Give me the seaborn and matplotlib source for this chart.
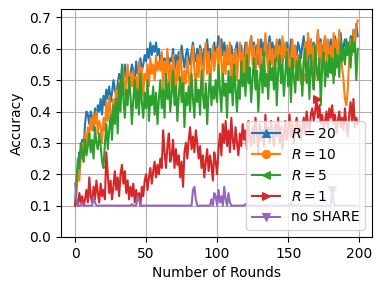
import numpy as np
import pandas as pd
import seaborn as sns
import matplotlib
matplotlib.use("Agg")
import matplotlib.pyplot as plt

rounds = list(range(200))

# accuracy per round
r20 = [0.10, 0.17, 0.22, 0.27, 0.25, 0.31, 0.28, 0.36, 0.40, 0.39, 0.36, 0.40, 0.38, 0.34, 0.41, 0.37, 0.42, 0.40, 0.44, 0.39,
       0.45, 0.42, 0.47, 0.44, 0.48, 0.43, 0.46, 0.50, 0.47, 0.45, 0.49, 0.52, 0.48, 0.54, 0.50, 0.55, 0.51, 0.53, 0.49, 0.52,
       0.55, 0.53, 0.50, 0.56, 0.52, 0.54, 0.57, 0.53, 0.55, 0.58, 0.56, 0.60, 0.57, 0.62, 0.58, 0.61, 0.59, 0.62, 0.58, 0.60,
       0.56, 0.58, 0.55, 0.57, 0.54, 0.58, 0.55, 0.57, 0.56, 0.60, 0.53, 0.58, 0.55, 0.59, 0.56, 0.61, 0.57, 0.54, 0.58, 0.60,
       0.57, 0.55, 0.59, 0.62, 0.58, 0.56, 0.60, 0.57, 0.61, 0.59, 0.55, 0.60, 0.58, 0.63, 0.57, 0.60, 0.56, 0.59, 0.62, 0.58,
       0.60, 0.64, 0.61, 0.63, 0.58, 0.62, 0.59, 0.55, 0.60, 0.57, 0.61, 0.58, 0.56, 0.60, 0.62, 0.57, 0.59, 0.61, 0.55, 0.58,
       0.62, 0.60, 0.57, 0.61, 0.64, 0.59, 0.62, 0.58, 0.61, 0.55, 0.60, 0.63, 0.58, 0.62, 0.60, 0.57, 0.61, 0.64, 0.59, 0.62,
       0.58, 0.61, 0.56, 0.60, 0.63, 0.59, 0.55, 0.61, 0.58, 0.62, 0.60, 0.57, 0.63, 0.59, 0.56, 0.61, 0.58, 0.62, 0.60, 0.57,
       0.61, 0.64, 0.58, 0.62, 0.55, 0.60, 0.63, 0.59, 0.62, 0.57, 0.61, 0.65, 0.60, 0.63, 0.58, 0.61, 0.64, 0.59, 0.62, 0.60,
       0.63, 0.58, 0.61, 0.64, 0.60, 0.57, 0.62, 0.65, 0.59, 0.61, 0.63, 0.58, 0.62, 0.60, 0.64, 0.61, 0.66, 0.63, 0.68, 0.64]

r10 = [0.10, 0.14, 0.20, 0.18, 0.26, 0.30, 0.24, 0.33, 0.29, 0.35, 0.32, 0.38, 0.34, 0.39, 0.36, 0.40, 0.33, 0.37, 0.35, 0.30,
       0.38, 0.34, 0.43, 0.37, 0.45, 0.40, 0.36, 0.44, 0.41, 0.47, 0.39, 0.50, 0.43, 0.48, 0.53, 0.45, 0.50, 0.55, 0.47, 0.52,
       0.48, 0.53, 0.45, 0.51, 0.47, 0.56, 0.49, 0.54, 0.45, 0.52, 0.50, 0.55, 0.48, 0.57, 0.52, 0.55, 0.50, 0.58, 0.53, 0.56,
       0.53, 0.59, 0.47, 0.56, 0.52, 0.60, 0.49, 0.55, 0.46, 0.58, 0.53, 0.44, 0.56, 0.50, 0.59, 0.54, 0.43, 0.53, 0.49, 0.57,
       0.52, 0.45, 0.56, 0.61, 0.53, 0.46, 0.58, 0.51, 0.60, 0.55, 0.47, 0.57, 0.62, 0.52, 0.59, 0.48, 0.55, 0.61, 0.53, 0.58,
       0.60, 0.54, 0.63, 0.56, 0.49, 0.59, 0.52, 0.61, 0.55, 0.62, 0.46, 0.58, 0.53, 0.60, 0.50, 0.57, 0.62, 0.54, 0.59, 0.49,
       0.58, 0.62, 0.53, 0.60, 0.64, 0.55, 0.61, 0.50, 0.59, 0.63, 0.54, 0.60, 0.48, 0.57, 0.65, 0.58, 0.52, 0.62, 0.55, 0.60,
       0.51, 0.59, 0.63, 0.55, 0.61, 0.52, 0.64, 0.57, 0.62, 0.53, 0.60, 0.49, 0.57, 0.63, 0.54, 0.61, 0.50, 0.58, 0.52, 0.49,
       0.51, 0.57, 0.62, 0.54, 0.65, 0.58, 0.63, 0.53, 0.61, 0.50, 0.59, 0.66, 0.55, 0.62, 0.52, 0.60, 0.64, 0.56, 0.63, 0.54,
       0.61, 0.55, 0.65, 0.58, 0.63, 0.56, 0.66, 0.60, 0.54, 0.50, 0.44, 0.42, 0.47, 0.57, 0.63, 0.58, 0.66, 0.60, 0.67, 0.69]

r5 = [0.10, 0.18, 0.25, 0.22, 0.30, 0.27, 0.24, 0.31, 0.26, 0.29, 0.33, 0.27, 0.31, 0.25, 0.35, 0.30, 0.28, 0.33, 0.29, 0.24,
      0.22, 0.30, 0.36, 0.28, 0.34, 0.39, 0.31, 0.42, 0.36, 0.44, 0.33, 0.49, 0.40, 0.55, 0.44, 0.38, 0.47, 0.42, 0.51, 0.45,
      0.36, 0.44, 0.50, 0.41, 0.47, 0.39, 0.52, 0.43, 0.38, 0.46, 0.41, 0.50, 0.37, 0.45, 0.42, 0.48, 0.39, 0.46, 0.36, 0.44,
      0.50, 0.41, 0.47, 0.38, 0.52, 0.44, 0.49, 0.40, 0.46, 0.53, 0.42, 0.48, 0.37, 0.45, 0.51, 0.43, 0.49, 0.35, 0.46, 0.42,
      0.48, 0.40, 0.52, 0.44, 0.38, 0.50, 0.43, 0.47, 0.39, 0.53, 0.45, 0.41, 0.49, 0.36, 0.46, 0.52, 0.42, 0.48, 0.44, 0.50,
      0.43, 0.55, 0.47, 0.40, 0.52, 0.45, 0.49, 0.38, 0.53, 0.46, 0.51, 0.42, 0.55, 0.47, 0.40, 0.50, 0.44, 0.56, 0.48, 0.52,
      0.45, 0.58, 0.49, 0.54, 0.43, 0.51, 0.57, 0.47, 0.53, 0.40, 0.50, 0.55, 0.46, 0.59, 0.48, 0.52, 0.44, 0.56, 0.50, 0.54,
      0.47, 0.57, 0.42, 0.53, 0.58, 0.49, 0.55, 0.45, 0.52, 0.59, 0.48, 0.54, 0.43, 0.57, 0.51, 0.46, 0.56, 0.50, 0.58, 0.53,
      0.45, 0.55, 0.60, 0.49, 0.56, 0.44, 0.58, 0.52, 0.47, 0.61, 0.54, 0.50, 0.57, 0.42, 0.55, 0.59, 0.48, 0.56, 0.51, 0.58,
      0.53, 0.57, 0.49, 0.60, 0.54, 0.58, 0.51, 0.62, 0.56, 0.60, 0.55, 0.63, 0.58, 0.61, 0.54, 0.64, 0.59, 0.62, 0.50, 0.60]

r1 = [0.10, 0.12, 0.10, 0.14, 0.11, 0.13, 0.10, 0.12, 0.15, 0.11, 0.19, 0.13, 0.11, 0.16, 0.12, 0.18, 0.14, 0.11, 0.17, 0.13,
      0.15, 0.12, 0.27, 0.20, 0.14, 0.18, 0.12, 0.16, 0.21, 0.15, 0.19, 0.13, 0.20, 0.23, 0.17, 0.21, 0.14, 0.18, 0.12, 0.16,
      0.13, 0.17, 0.11, 0.15, 0.12, 0.14, 0.10, 0.16, 0.13, 0.18, 0.20, 0.15, 0.19, 0.22, 0.17, 0.21, 0.24, 0.19, 0.23, 0.20,
      0.25, 0.22, 0.34, 0.27, 0.22, 0.29, 0.33, 0.24, 0.26, 0.31, 0.22, 0.28, 0.23, 0.26, 0.19, 0.24, 0.16, 0.27, 0.30, 0.25,
      0.31, 0.35, 0.28, 0.32, 0.27, 0.34, 0.30, 0.25, 0.29, 0.22, 0.26, 0.19, 0.24, 0.28, 0.21, 0.26, 0.23, 0.18, 0.27, 0.24,
      0.20, 0.28, 0.33, 0.26, 0.36, 0.30, 0.37, 0.29, 0.34, 0.27, 0.38, 0.31, 0.28, 0.35, 0.30, 0.26, 0.33, 0.29, 0.36, 0.31,
      0.34, 0.28, 0.37, 0.32, 0.29, 0.35, 0.30, 0.38, 0.33, 0.27, 0.36, 0.31, 0.34, 0.29, 0.39, 0.32, 0.35, 0.30, 0.37, 0.33,
      0.29, 0.36, 0.32, 0.38, 0.30, 0.35, 0.28, 0.33, 0.37, 0.31, 0.34, 0.39, 0.32, 0.36, 0.30, 0.35, 0.38, 0.33, 0.36, 0.31,
      0.35, 0.38, 0.33, 0.40, 0.36, 0.34, 0.39, 0.41, 0.37, 0.40, 0.44, 0.38, 0.42, 0.36, 0.39, 0.34, 0.37, 0.40, 0.35, 0.41,
      0.38, 0.42, 0.36, 0.39, 0.33, 0.37, 0.40, 0.35, 0.38, 0.34, 0.41, 0.36, 0.32, 0.39, 0.43, 0.37, 0.44, 0.35, 0.38, 0.36]

no_share = [0.17, 0.12, 0.10, 0.10, 0.10, 0.11, 0.10, 0.10, 0.10, 0.10, 0.10, 0.10, 0.10, 0.13, 0.11, 0.10, 0.10, 0.10, 0.10, 0.10,
            0.10, 0.10, 0.10, 0.10, 0.10, 0.10, 0.10, 0.10, 0.10, 0.10, 0.10, 0.10, 0.10, 0.10, 0.10, 0.10, 0.10, 0.10, 0.10, 0.10,
            0.105, 0.10, 0.10, 0.10, 0.13, 0.12, 0.10, 0.10, 0.10, 0.10, 0.10, 0.10, 0.10, 0.10, 0.10, 0.10, 0.10, 0.10, 0.10, 0.10,
            0.10, 0.10, 0.10, 0.10, 0.10, 0.10, 0.10, 0.10, 0.10, 0.10, 0.10, 0.10, 0.10, 0.10, 0.10, 0.10, 0.10, 0.10, 0.10, 0.10,
            0.10, 0.10, 0.10, 0.15, 0.16, 0.12, 0.10, 0.10, 0.10, 0.10, 0.10, 0.10, 0.10, 0.10, 0.10, 0.10, 0.12, 0.10, 0.14, 0.13,
            0.10, 0.15, 0.11, 0.13, 0.10, 0.16, 0.12, 0.10, 0.14, 0.11, 0.10, 0.10, 0.10, 0.10, 0.10, 0.10, 0.10, 0.10, 0.10, 0.10,
            0.105, 0.10, 0.10, 0.10, 0.10, 0.10, 0.10, 0.10, 0.10, 0.10, 0.10, 0.10, 0.10, 0.10, 0.10, 0.10, 0.10, 0.10, 0.10, 0.10,
            0.10, 0.10, 0.10, 0.10, 0.10, 0.10, 0.10, 0.10, 0.10, 0.10, 0.10, 0.10, 0.11, 0.10, 0.10, 0.10, 0.10, 0.10, 0.10, 0.10,
            0.10, 0.10, 0.10, 0.10, 0.10, 0.10, 0.10, 0.10, 0.10, 0.10, 0.10, 0.10, 0.10, 0.10, 0.10, 0.10, 0.10, 0.10, 0.10, 0.10,
            0.10, 0.15, 0.11, 0.10, 0.10, 0.10, 0.10, 0.10, 0.10, 0.10, 0.10, 0.10, 0.10, 0.10, 0.10, 0.10, 0.10, 0.10, 0.10, 0.10]

labels = ['$R=20$', '$R=10$', '$R=5$', '$R=1$', 'no SHARE']
series = [r20, r10, r5, r1, no_share]
markers = ['^', 'o', '<', '>', 'v']
mark_at = [[], [160], [180], [170], [181]]
colors = sns.color_palette('tab10')[:5]

fig, ax = plt.subplots(figsize=(3.81, 2.89), dpi=100)
for vals, lab, m, me, c in zip(series, labels, markers, mark_at, colors):
    sns.lineplot(x=rounds, y=vals, ax=ax, label=lab, marker=m, markevery=me,
                 color=c, markeredgecolor=c, linewidth=1.5, markersize=6)

ax.set_ylim(0, 0.727)
ax.set_xlabel('Number of Rounds')
ax.set_ylabel('Accuracy')
ax.grid(True)
ax.legend(loc='lower right')
plt.subplots_adjust(left=0.16, right=0.976, top=0.969, bottom=0.18)
plt.savefig('out.png', dpi=100)
